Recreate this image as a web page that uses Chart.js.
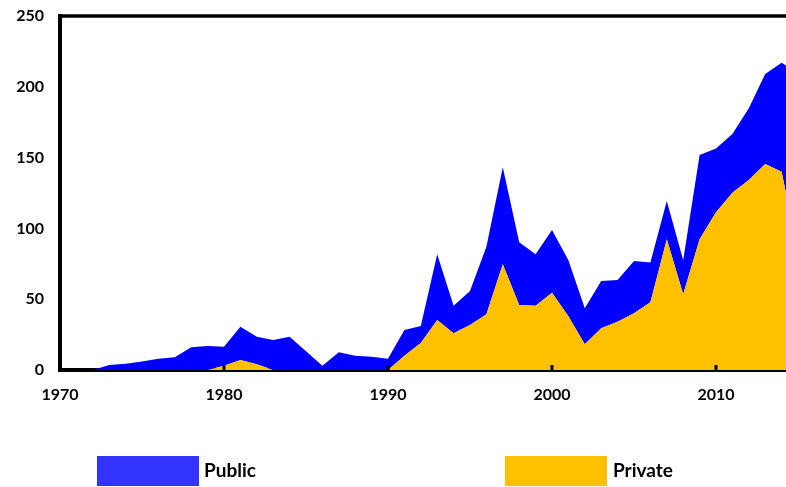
<!DOCTYPE html>
<html>
<head>
<meta charset="utf-8">
<script src="https://cdn.jsdelivr.net/npm/chart.js@4"></script>
<style>
  html, body { margin: 0; padding: 0; background: #fff; overflow: hidden; }
  #wrap { position: relative; width: 786px; height: 487px; overflow: hidden; }
  #box { position: absolute; left: 0; top: 0; width: 810px; height: 487px; }
  .lg { position: absolute; font-family: Lato, "Liberation Sans", sans-serif; font-weight: bold; font-size: 19px; color: #000; }
  .sw { position: absolute; }
</style>
</head>
<body>
<div id="wrap">
  <div id="box"><canvas id="c"></canvas></div>
  <div class="sw" style="left:97px;top:456px;width:102px;height:30px;background:#3333FF"></div>
  <div class="lg" style="left:204px;top:458px;">Public</div>
  <div class="sw" style="left:505px;top:456px;width:102px;height:30px;background:#FFC000"></div>
  <div class="lg" style="left:613px;top:458px;">Private</div>
</div>
<script>
const years = [1970,1971,1972,1973,1974,1975,1976,1977,1978,1979,
               1980,1981,1982,1983,1984,1985,1986,1987,1988,1989,
               1990,1991,1992,1993,1994,1995,1996,1997,1998,1999,
               2000,2001,2002,2003,2004,2005,2006,2007,2008,2009,
               2010,2011,2012,2013,2014,2015];
const privateVals = [0,0,0,0,0,0,0,0,0,0,
                     3,7,4,0,0,0,0,0,0,0,
                     0,10,19,35.3,25.9,31.8,39.3,74.6,45.9,45.4,
                     54.6,38,18.1,29.4,34.1,40,47.8,92.3,53.5,92.3,
                     111.4,125.2,134.2,145.5,140,84];
const publicVals = [0,0,0,3.5,4.5,6,8,9,16,17,
                    13.5,23.6,19.5,21.2,23.5,13.2,3,12.5,10,9.4,
                    8,18.2,12,46.4,19.5,24,47.8,68.5,44.3,36.3,
                    44.3,39.5,25.5,33.5,29.5,37,28.2,27.1,24,59.5,
                    45.1,41.5,50.6,63.5,77,126];
const yTicks = [0,50,100,150,200,250];
const xTickStep = 10;

const toPts = arr => years.map((yr, i) => ({x: yr, y: arr[i]}));

const frame = {
  id: 'frame',
  afterDatasetsDraw(chart) {
    const {ctx, chartArea, scales} = chart;
    ctx.save();
    ctx.fillStyle = '#000';
    // top border
    ctx.fillRect(chartArea.left - 2, chartArea.top - 1.75, chartArea.right - chartArea.left + 4, 3.5);
    // inward tick marks on x axis
    scales.x.ticks.forEach(t => {
      const px = scales.x.getPixelForValue(t.value);
      if (px > chartArea.left + 4) ctx.fillRect(px - 1.5, chartArea.bottom - 5, 3, 5);
    });
    ctx.restore();
  }
};

new Chart(document.getElementById('c'), {
  type: 'line',
  data: {
    datasets: [
      { label: 'Private', data: toPts(privateVals), backgroundColor: '#FFC000', borderColor: '#FFC000',
        borderWidth: 0, fill: 'origin', pointRadius: 0, tension: 0 },
      { label: 'Public', data: toPts(publicVals), backgroundColor: '#0000FF', borderColor: '#0000FF',
        borderWidth: 0, fill: '-1', pointRadius: 0, tension: 0 }
    ]
  },
  options: {
    responsive: true,
    maintainAspectRatio: false,
    animation: false,
    layout: { padding: { top: 16, right: 12, left: 0, bottom: 0 } },
    plugins: { legend: { display: false }, tooltip: { enabled: false } },
    scales: {
      x: {
        type: 'linear', min: 1970, max: 2015,
        afterFit: s => { s.height = 117; s.paddingLeft = 0; s.paddingRight = 0; },
        grid: { display: false, drawTicks: false },
        border: { display: true, color: '#000', width: 4 },
        ticks: { stepSize: xTickStep, includeBounds: false, padding: 15, color: '#000',
                 font: { family: 'Lato', weight: 'bold', size: 16 },
                 callback: v => String(v) }
      },
      y: {
        stacked: true, min: 0, max: 250,
        afterFit: s => { s.width = 60; s.paddingTop = 0; s.paddingBottom = 0; },
        afterBuildTicks: s => { s.ticks = yTicks.map(v => ({value: v})); },
        grid: { display: false, drawTicks: false },
        border: { display: true, color: '#000', width: 4 },
        ticks: { padding: 16, color: '#000', font: { family: 'Lato', weight: 'bold', size: 16 } }
      }
    }
  },
  plugins: [frame]
});
</script>
</body>
</html>
